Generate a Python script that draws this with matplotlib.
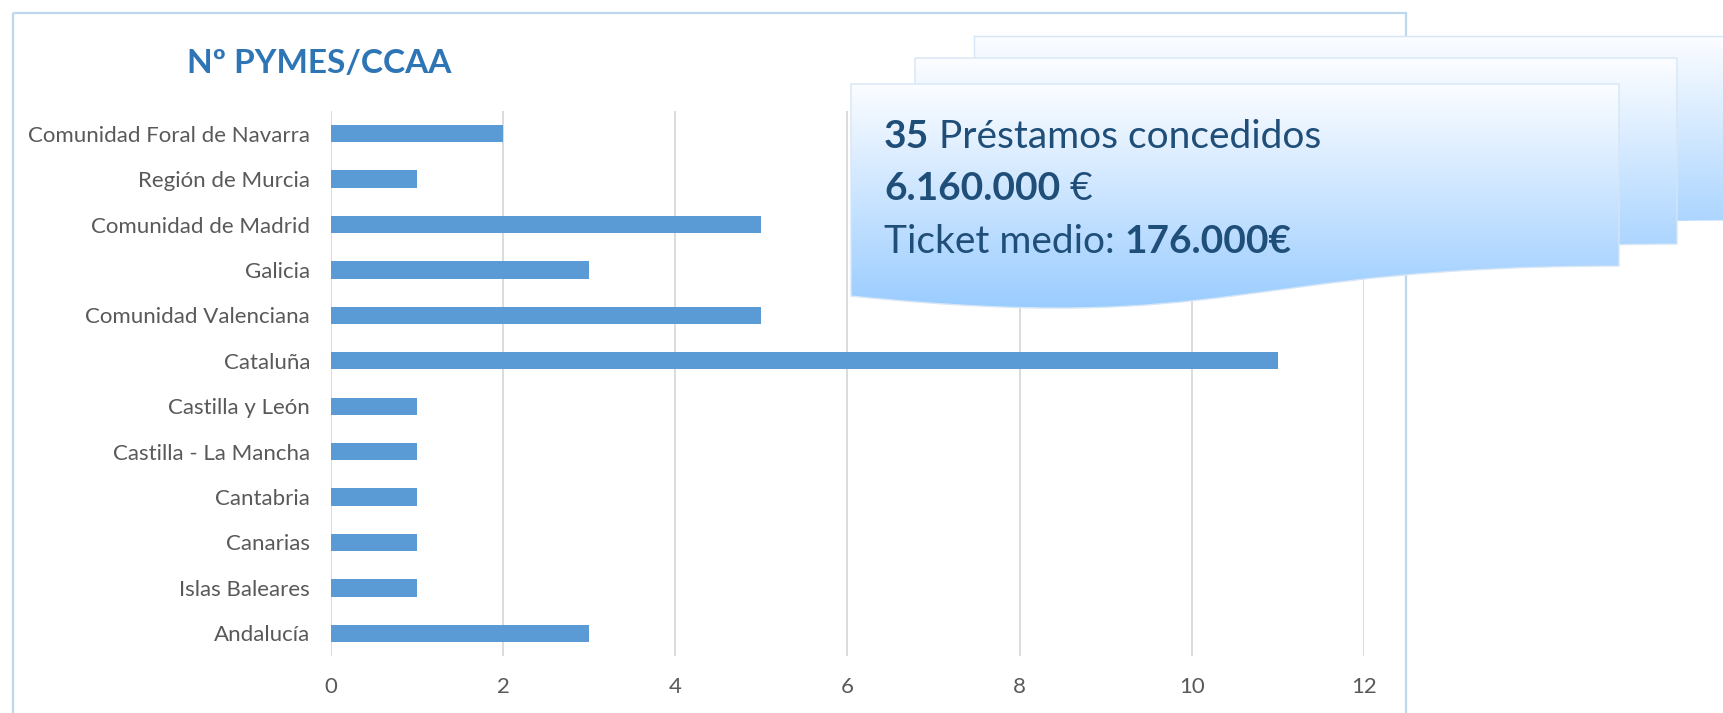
import matplotlib.pyplot as plt
import numpy as np
from matplotlib.path import Path
from matplotlib.patches import PathPatch, Rectangle

plt.rcParams['font.family'] = ['Lato', 'DejaVu Sans']

regions = ['Andalucía', 'Islas Baleares', 'Canarias', 'Cantabria',
           'Castilla - La Mancha', 'Castilla y León', 'Cataluña',
           'Comunidad Valenciana', 'Galicia', 'Comunidad de Madrid',
           'Región de Murcia', 'Comunidad Foral de Navarra']
pymes = [3, 1, 1, 1, 1, 1, 11, 5, 3, 5, 1, 2]
x_ticks = [0, 2, 4, 6, 8, 10, 12]

W, H = 1724, 713
fig = plt.figure(figsize=(W / 100, H / 100), dpi=100)

# main bar chart, placed in pixel terms
ax = fig.add_axes([331 / W, 1 - 656 / H, (1364 - 331) / W, 545 / H])
ax.barh(range(len(regions)), pymes, height=0.38, color='#5B9BD5', zorder=3)
ax.set_yticks(range(len(regions)))
ax.set_yticklabels(regions)
ax.set_xticks(x_ticks)
ax.set_xlim(0, 12)
ax.set_ylim(-0.5, len(regions) - 0.5)
ax.grid(axis='x', color='#D9D9D9', lw=1.3, zorder=0)
for s in ax.spines.values():
    s.set_visible(False)
ax.tick_params(length=0, labelsize=16, colors='#595959')
ax.tick_params(axis='y', pad=15)
ax.tick_params(axis='x', pad=15)

# overlay in pixel coords (y down)
ov = fig.add_axes([0, 0, 1, 1])
ov.set_xlim(0, W)
ov.set_ylim(H, 0)
ov.axis('off')
ov.set_zorder(5)

ov.add_patch(Rectangle((13, 13), 1406 - 13, 760, fill=False,
                       ec='#BDD7EE', lw=1.6))
ov.text(319, 73, 'Nº PYMES/CCAA', ha='center', va='baseline',
        fontsize=24, fontweight='bold', color='#2E75B6')


def doc_shape(x0, y0, w, h):
    verts = [(x0, y0), (x0 + w, y0), (x0 + w, y0 + 0.802 * h),
             (x0 + w / 2, y0 + 0.802 * h), (x0 + w / 2, y0 + 1.107 * h),
             (x0, y0 + 0.934 * h), (x0, y0)]
    codes = [Path.MOVETO, Path.LINETO, Path.LINETO,
             Path.CURVE4, Path.CURVE4, Path.CURVE4, Path.CLOSEPOLY]
    return Path(verts, codes)


grad = np.linspace(0, 1, 256)[:, None]
top = np.array([252, 253, 255]) / 255
bot = np.array([153, 204, 255]) / 255
img = top + (bot - top) * grad[..., None] * np.ones((1, 2, 1))

# back box is cut by the figure edge; keep its path inside the canvas
boxes = [(974, 36, 749, 230), (915, 58, 762, 232), (851, 84, 768, 227)]
for i, (x0, y0, w, h) in enumerate(boxes):
    patch = PathPatch(doc_shape(x0, y0, w, h), fc='none',
                      ec='#D6E6F5' if i else 'none',
                      lw=1, zorder=2 + 2 * i + 1)
    ov.add_patch(patch)
    im = ov.imshow(img, extent=[x0, x0 + w, y0 + h, y0],
                   aspect='auto', zorder=2 + 2 * i, interpolation='bilinear')
    im.set_clip_path(patch)
    if i == 0:
        ov.plot([x0, x0 + w], [y0, y0], color='#D6E6F5', lw=1, zorder=3)
        ov.plot([x0, x0], [y0, y0 + 0.934 * h], color='#D6E6F5', lw=1, zorder=3)
ov.set_xlim(0, W)
ov.set_ylim(H, 0)

renderer = fig.canvas.get_renderer()
lines = [(148, [('35', 'bold'), (' Préstamos concedidos', 'normal')]),
         (200, [('6.160.000', 'bold'), (' €', 'normal')]),
         (253, [('Ticket medio: ', 'normal'), ('176.000€', 'bold')])]
for y, parts in lines:
    x = 884
    for s, wgt in parts:
        t = ov.text(x, y, s, ha='left', va='baseline', fontsize=28,
                    fontweight=wgt, color='#1F4E79', zorder=20)
        x += t.get_window_extent(renderer).width

fig.savefig('out.png', dpi=100)
